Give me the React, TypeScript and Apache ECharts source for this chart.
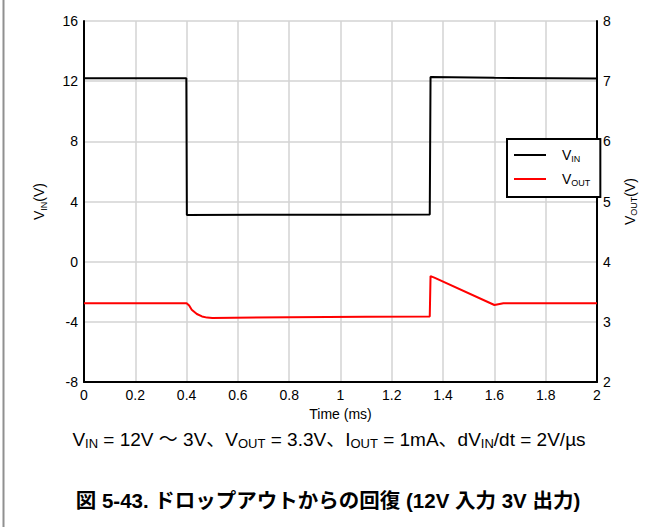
import React, { useEffect, useRef } from "react";
import * as echarts from "echarts";

const timeTicks = [0, 0.2, 0.4, 0.6, 0.8, 1, 1.2, 1.4, 1.6, 1.8, 2];
const vinTime = [0, 0.2, 0.399, 0.401, 0.7, 1.0, 1.348, 1.351, 1.6, 2];
const vinValue = [12.2, 12.2, 12.2, 3.1, 3.12, 3.12, 3.13, 12.28, 12.22, 12.18];
const voutTime = [0, 0.2, 0.4, 0.41, 0.42, 0.44, 0.46, 0.48, 0.5, 0.8, 1.1, 1.348, 1.351, 1.368, 1.6, 1.635, 2];
const voutValue = [3.31, 3.31, 3.31, 3.27, 3.2, 3.13, 3.09, 3.07, 3.065, 3.075, 3.085, 3.09, 3.76, 3.73, 3.28, 3.31, 3.31];
const seriesNames = ["VIN", "VOUT"];

const FONT = "'Liberation Sans', Arial, 'Noto Sans CJK JP', sans-serif";

export default function App() {
  const ref = useRef<HTMLDivElement>(null);
  useEffect(() => {
    if (!ref.current) return;
    const chart = echarts.init(ref.current, null, { renderer: "svg" });
    const vin = vinTime.map((t, i) => [t, vinValue[i]]);
    const vout = voutTime.map((t, i) => [t, voutValue[i]]);
    const subRich = {
      v: { fontSize: 14, fontFamily: FONT, color: "#000", verticalAlign: "middle" as const, lineHeight: 18 },
      s: { fontSize: 9, fontFamily: FONT, color: "#000", verticalAlign: "bottom" as const, lineHeight: 18, padding: [7, 0, 0, 0] },
    };
    chart.setOption({
      animation: false,
      backgroundColor: "#fff",
      grid: { left: 84, right: 63, top: 21, bottom: 145, containLabel: false },
      legend: {
        orient: "vertical",
        left: 507,
        top: 139,
        padding: [9, 10, 9, 7],
        itemGap: 8,
        itemWidth: 32,
        itemHeight: 2,
        icon: "rect",
        borderColor: "#000",
        borderWidth: 2,
        backgroundColor: "#fff",
        data: seriesNames,
        formatter: (n: string) => (n === "VIN" ? "{v|V}{s|IN}" : "{v|V}{s|OUT}"),
        textStyle: { padding: [0, 0, 0, 11], rich: subRich },
      },
      xAxis: {
        type: "value",
        min: 0,
        max: 2,
        interval: 0.2,
        name: "Time (ms)",
        nameLocation: "middle",
        nameGap: 25,
        nameTextStyle: { fontSize: 14, fontFamily: FONT, color: "#000" },
        axisLine: { show: true, onZero: false, lineStyle: { color: "#000", width: 2 } },
        axisTick: { show: false },
        axisLabel: {
          fontSize: 14, fontFamily: FONT, color: "#000", margin: 6,
          formatter: (v: number) => String(timeTicks.find((t) => Math.abs(t - v) < 1e-6) ?? v),
        },
        splitLine: { show: true, lineStyle: { color: "#d3d3d3", width: 1.5 } },
      },
      yAxis: [
        {
          type: "value",
          min: -8,
          max: 16,
          interval: 4,
          position: "left",
          name: "{v|V}{s|IN}{v|(V)}",
          nameLocation: "middle",
          nameRotate: 90,
          nameGap: 36,
          nameTextStyle: { rich: subRich },
          axisLine: { show: true, onZero: false, lineStyle: { color: "#000", width: 2 } },
          axisTick: { show: false },
          axisLabel: { fontSize: 14, fontFamily: FONT, color: "#000", margin: 6 },
          splitLine: { show: true, lineStyle: { color: "#d3d3d3", width: 1.5 } },
        },
        {
          type: "value",
          min: 2,
          max: 8,
          interval: 1,
          position: "right",
          name: "{v|V}{s|OUT}{v|(V)}",
          nameLocation: "middle",
          nameRotate: 90,
          nameGap: 24,
          nameTextStyle: { rich: subRich },
          axisLine: { show: true, onZero: false, lineStyle: { color: "#000", width: 2 } },
          axisTick: { show: false },
          axisLabel: { fontSize: 14, fontFamily: FONT, color: "#000", margin: 6 },
          splitLine: { show: false },
        },
      ],
      series: [
        {
          name: "VIN",
          type: "line",
          yAxisIndex: 0,
          data: vin,
          symbol: "none",
          lineStyle: { color: "#000", width: 2 },
          itemStyle: { color: "#000" },
        },
        {
          name: "VOUT",
          type: "line",
          yAxisIndex: 1,
          data: vout,
          symbol: "none",
          lineStyle: { color: "#ff0000", width: 2 },
          itemStyle: { color: "#ff0000" },
        },
      ],
      graphic: [
        {
          type: "line",
          shape: { x1: 3.5, y1: 0, x2: 3.5, y2: 527 },
          style: { stroke: "#909090", lineWidth: 2 },
        },
        {
          type: "text",
          x: 329,
          y: 439,
          style: {
            text: "V{s|IN} = 12V ～ 3V、V{s|OUT} = 3.3V、I{s|OUT} = 1mA、dV{s|IN}/dt = 2V/µs",
            fontSize: 19,
            fontFamily: FONT,
            fill: "#000",
            align: "center",
            verticalAlign: "middle",
            rich: {
              s: { fontSize: 13, fontFamily: FONT, fill: "#000", verticalAlign: "bottom", padding: [9, 0, 0, 0] },
            },
          },
        },
        {
          type: "text",
          x: 328,
          y: 500,
          style: {
            text: "図 5-43. ドロップアウトからの回復 (12V 入力 3V 出力)",
            fontSize: 20.5,
            fontWeight: "bold",
            fontFamily: FONT,
            fill: "#000",
            align: "center",
            verticalAlign: "middle",
          },
        },
      ],
    });
    return () => chart.dispose();
  }, []);
  return <div ref={ref} style={{ width: 660, height: 527, position: "absolute", left: 0, top: 0 }} />;
}
